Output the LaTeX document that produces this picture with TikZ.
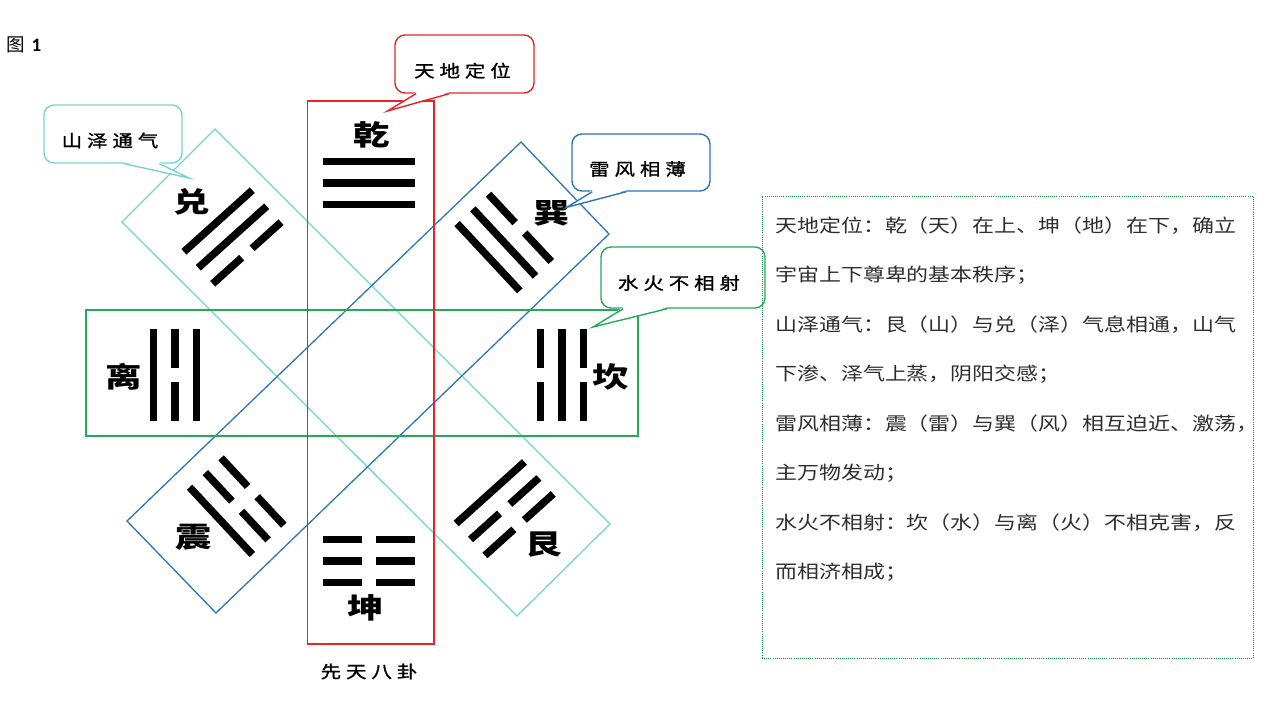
\documentclass[tikz,border=0pt]{standalone}
\usepackage{fontspec}
\setmainfont{Liberation Sans}
\newfontfamily\cjkplain{Noto Sans CJK SC}
\newfontfamily\cjk{Noto Sans CJK SC}[FakeStretch=1.2]
\newfontfamily\cjkc{Noto Sans CJK SC}[FakeStretch=1.2, FakeBold=1.2]
\newfontfamily\cjklab{Noto Sans CJK SC}[FakeStretch=1.3]
\newfontfamily\numfont{Carlito}
\usetikzlibrary{calc}
\definecolor{cR}{RGB}{232,36,40}
\definecolor{cC}{RGB}{120,212,206}
\definecolor{cB}{RGB}{46,117,182}
\definecolor{cG}{RGB}{38,170,90}
\definecolor{cD}{RGB}{20,150,70}
\newcommand\gp{\hspace{5pt}}
\newcommand\tbar[2]{%
  \ifnum#2=1 \draw[trbar] (-46,#1) -- (46,#1);%
  \else \draw[trbar] (-46,#1) -- (-7,#1) (7,#1) -- (46,#1);\fi}
\newcommand\trigram[5]{%
  \begin{scope}[shift={(#1)}, rotate=#2]
    \tbar{-21.5}{#3}\tbar{0}{#4}\tbar{21.5}{#5}
  \end{scope}}
\begin{document}
\begin{tikzpicture}[x=1pt,y=-1pt,
  frame/.style={line width=1.3pt},
  trbar/.style={line width=7.5pt, line cap=butt, black},
  lab/.style={font=\cjklab\bfseries\fontsize{28}{28}\selectfont, inner sep=0},
  callout/.style={draw, fill=white, rounded corners=10pt, line width=1.4pt, inner sep=0},
  ctext/.style={font=\cjkc\fontsize{17}{17}\selectfont, inner sep=0},
  body/.style={font=\cjk\fontsize{18.3}{18.3}\selectfont, inner sep=0, anchor=west, text=black!82}]
\useasboundingbox (0,0) rectangle (1280,709);
\fill[white] (0,0) rectangle (1280,709);

% frames
\draw[cC, frame] (215,129) -- (610,524) -- (517,616) -- (122,222) -- cycle;
\draw[cB, frame] (521,142) -- (609,234) -- (216,613) -- (127,521) -- cycle;
\draw[cG, frame] (86,310) rectangle (638,436);
\draw[cR, frame] (307.5,101) rectangle (434,644);

% trigrams
\trigram{368.5,183}{0}{1}{1}{1}     % qian
\trigram{369,561}{0}{0}{0}{0}       % kun
\trigram{175,374.5}{90}{1}{0}{1}    % li
\trigram{562,374.5}{90}{0}{1}{0}    % kan
\trigram{232.5,237}{42}{1}{1}{0}    % dui
\trigram{504.2,242.5}{-47}{0}{1}{1} % xun
\trigram{236.7,506.2}{-47}{0}{0}{1} % zhen
\trigram{504.7,508.7}{42}{1}{0}{0}  % gen

% labels
\node[lab] (qian) at (372,135) {乾};
\node[lab] (dui)  at (191.5,202) {兑};
\node[lab] (xun)  at (551.7,213) {巽};
\node[lab] (li)   at (124,377) {离};
\node[lab] (kan)  at (611,377) {坎};
\node[lab] (zhen) at (194,537.5) {震};
\node[lab] (kun)  at (365.5,607.5) {坤};
\node[lab] (gen)  at (544,545) {艮};

% callouts
\node[callout, draw=cR, minimum width=139, minimum height=58] (cTD) at (464.5,64) {};
\coordinate (tTD) at (387.5,111);
\fill[white] ($(cTD.south west)+(21.7,-1.5)$) -- (tTD) -- ($(cTD.south west)+(55,-1.5)$) -- cycle;
\draw[cR, line width=1.4pt] ($(cTD.south west)+(21.7,0)$) -- (tTD) -- ($(cTD.south west)+(55,0)$);
\node[ctext] (xTD) at (462.5,70.7) {天\gp 地\gp 定\gp 位};

\node[callout, draw=cC, minimum width=138, minimum height=58] (cSZ) at (113,134) {};
\coordinate (tSZ) at (189,178);
\fill[white] ($(cSZ.south west)+(81,-1.5)$) -- (tSZ) -- ($(cSZ.south west)+(116,-1.5)$) -- cycle;
\draw[cC, line width=1.4pt] ($(cSZ.south west)+(81,0)$) -- (tSZ) -- ($(cSZ.south west)+(116,0)$);
\node[ctext] (xSZ) at (110,140.5) {山\gp 泽\gp 通\gp 气};

\node[callout, draw=cB, minimum width=138, minimum height=57] (cLF) at (641,162.5) {};
\coordinate (tLF) at (566.7,207.3);
\fill[white] ($(cLF.south west)+(21,-1.5)$) -- (tLF) -- ($(cLF.south west)+(55,-1.5)$) -- cycle;
\draw[cB, line width=1.4pt] ($(cLF.south west)+(21,0)$) -- (tLF) -- ($(cLF.south west)+(55,0)$);
\node[ctext] (xLF) at (637.5,169) {雷\gp 风\gp 相\gp 薄};

\node[callout, draw=cG, minimum width=164, minimum height=61] (cSH) at (683,277.5) {};
\coordinate (tSH) at (593,327);
\fill[white] ($(cSH.south west)+(23,-1.5)$) -- (tSH) -- ($(cSH.south west)+(67,-1.5)$) -- cycle;
\draw[cG, line width=1.4pt] ($(cSH.south west)+(23,0)$) -- (tSH) -- ($(cSH.south west)+(67,0)$);
\node[ctext] (xSH) at (679,283) {水\gp 火\gp 不\gp 相\gp 射};

% caption and figure label
\node[ctext] (cap) at (369,671.5) {先\gp 天\gp 八\gp 卦};
\node[anchor=west, inner sep=0, font=\cjkplain\fontsize{18.5}{18.5}\selectfont] (fig) at (6,45) {图\hspace{7pt}{\numfont\bfseries\fontsize{19}{19}\selectfont 1}};

% text box
\node[draw=cD, line width=0.9pt, dash pattern=on 0.9pt off 1.2pt, minimum width=491, minimum height=462, inner sep=0] (tbox) at (1007.5,427) {};
\node[body] (l1) at (775,226) {天地定位：乾（天）在上、坤（地）在下，确立};
\node[body] (l2) at (775,275.5) {宇宙上下尊卑的基本秩序；};
\node[body] (l3) at (775,325) {山泽通气：艮（山）与兑（泽）气息相通，山气};
\node[body] (l4) at (775,374.5) {下渗、泽气上蒸，阴阳交感；};
\node[body] (l5) at (775,424) {雷风相薄：震（雷）与巽（风）相互迫近、激荡，};
\node[body] (l6) at (775,473.5) {主万物发动；};
\node[body] (l7) at (775,523) {水火不相射：坎（水）与离（火）不相克害，反};
\node[body] (l8) at (775,572.5) {而相济相成；};
\end{tikzpicture}
\end{document}
